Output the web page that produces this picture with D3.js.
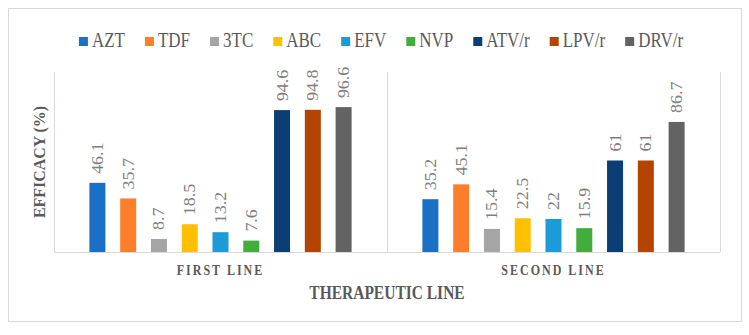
<!DOCTYPE html>
<html>
<head>
<meta charset="utf-8">
<script src="https://cdn.jsdelivr.net/npm/d3@7"></script>
<style>
  body { margin: 0; background: #fff; }
  text { font-family: "Liberation Serif", "Times New Roman", serif; }
</style>
</head>
<body>
<div id="chart"></div>
<script>
const lines = ["FIRST LINE", "SECOND LINE"]
const drugs = ["AZT", "TDF", "3TC", "ABC", "EFV", "NVP", "ATV/r", "LPV/r", "DRV/r"]
const firstLine = [46.1, 35.7, 8.7, 18.5, 13.2, 7.6, 94.6, 94.8, 96.6]
const secondLine = [35.2, 45.1, 15.4, 22.5, 22, 15.9, 61, 61, 86.7]
const colors = ["#1a6fc7", "#fd7f2c", "#a5a5a5", "#ffc000", "#1c9bd9", "#43ad3c", "#0b3e74", "#b44500", "#636363"]

const width = 749
const height = 335
const margin = { top: 72, bottom: 83, left: 54, right: 29 }

let svg = d3.select("#chart").append("svg")
    .attr("width", width)
    .attr("height", height)

// outer frame
svg.append("rect")
    .attr("x", 8.5).attr("y", 8.5)
    .attr("width", 733).attr("height", 313)
    .style("fill", "none")
    .style("stroke", "#d9d9d9")

let x0 = d3.scaleBand()
    .domain(lines)
    .range([margin.left, width - margin.right])

let x1 = d3.scaleBand()
    .domain(drugs)
    .range([0, x0.bandwidth()])
    .paddingInner(0.48)
    .paddingOuter(1.15)

let y = d3.scaleLinear()
    .domain([0, 120])
    .range([height - margin.bottom, margin.top])

let color = d3.scaleOrdinal(drugs, colors)

// category separators + baseline
let seps = [margin.left, x0("SECOND LINE"), width - margin.right]
svg.selectAll(".sep")
    .data(seps)
    .enter()
    .append("line")
    .attr("x1", d => d + 0.5).attr("x2", d => d + 0.5)
    .attr("y1", y(120)).attr("y2", y(0))
    .style("stroke", "#d9d9d9")

svg.append("line")
    .attr("x1", margin.left).attr("x2", width - margin.right)
    .attr("y1", y(0) + 0.5).attr("y2", y(0) + 0.5)
    .style("stroke", "#d9d9d9")

let rows = [
    { line: "FIRST LINE", values: firstLine },
    { line: "SECOND LINE", values: secondLine }
]

let groups = svg.selectAll(".grp")
    .data(rows)
    .enter()
    .append("g")
    .attr("transform", d => "translate(" + x0(d.line) + ",0)")

groups.selectAll("rect")
    .data(d => d.values.map((v, i) => ({ drug: drugs[i], value: v })))
    .enter()
    .append("rect")
    .attr("x", d => x1(d.drug))
    .attr("y", d => y(d.value))
    .attr("width", x1.bandwidth())
    .attr("height", d => y(0) - y(d.value))
    .style("fill", d => color(d.drug))

// value labels, rotated
groups.selectAll(".lbl")
    .data(d => d.values.map((v, i) => ({ drug: drugs[i], value: v })))
    .enter()
    .append("text")
    .attr("transform", d => "translate(" + (x1(d.drug) + x1.bandwidth() / 2 + 5.5) + "," + (y(d.value) - 9) + ") rotate(-90) scale(1.12,1)")
    .style("font-size", "16px")
    .style("fill", "#7f7f7f")
    .text(d => d.value)

// category labels
svg.selectAll(".cat")
    .data(lines)
    .enter()
    .append("text")
    .attr("transform", d => "translate(" + (x0(d) + x0.bandwidth() / 2) + ",275) scale(1,1.15)")
    .attr("text-anchor", "middle")
    .style("font-size", "12px")
    .style("font-weight", "bold")
    .style("letter-spacing", "2px")
    .style("fill", "#595959")
    .text(d => d)

svg.append("text")
    .attr("transform", "translate(" + (margin.left + width - margin.right) / 2 + ",299) scale(1,1.15)")
    .attr("text-anchor", "middle")
    .style("font-size", "15.5px")
    .style("font-weight", "bold")
    .style("fill", "#595959")
    .text("THERAPEUTIC LINE")

svg.append("text")
    .attr("transform", "translate(45,162) rotate(-90) scale(1.06,1.12)")
    .attr("text-anchor", "middle")
    .style("font-size", "15px")
    .style("font-weight", "bold")
    .style("fill", "#595959")
    .text("EFFICACY (%)")

// legend
let legend = svg.append("g")
let lx = 0
drugs.forEach(function (d) {
    let g = legend.append("g").attr("transform", "translate(" + lx + ",0)")
    g.append("rect")
        .attr("x", 0).attr("y", -10)
        .attr("width", 9).attr("height", 9)
        .style("fill", color(d))
    let t = g.append("text")
        .attr("transform", "translate(13,0) scale(1,1.2)")
        .style("font-size", "17px")
        .style("fill", "#595959")
        .text(d)
    lx += 13 + t.node().getComputedTextLength() + 20
})
lx -= 20
legend.attr("transform", "translate(" + (381 - lx / 2) + ",47)")
</script>
</body>
</html>
